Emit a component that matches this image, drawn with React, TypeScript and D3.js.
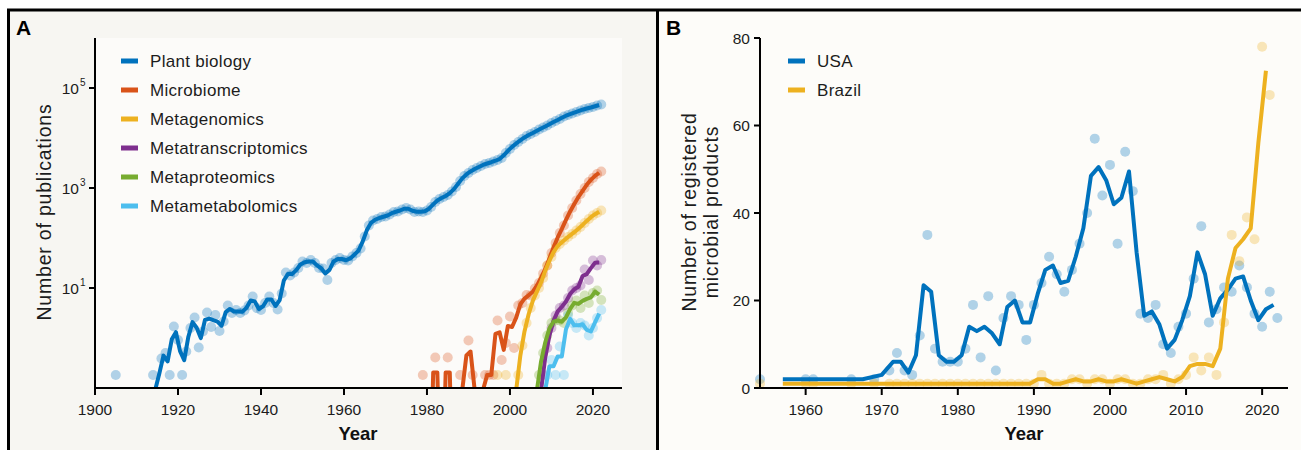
import React from "react";
import * as d3 from "d3";

// ---------------- Panel A data (log10 of value in axis units; null = none that year) ----------------
const plantStart = 1904;
const plantBiology: (number | null)[] = [
  null, // 1904
  -0.74, null, null, null, null, null, null, null, null, // 1905-1913
  -0.74, null, -0.41, -0.3, -0.74, 0.23, -0.04, -0.74, -0.27, 0.2, // 1914-1923
  0.41, -0.19, 0.13, 0.51, 0.22, 0.46, 0.14, 0.33, 0.65, 0.5, // 1924-1933
  0.56, 0.5, 0.55, 0.65, 0.83, 0.6, 0.56, 0.7, 0.83, 0.7, // 1934-1943
  0.57, 0.89, 1.31, 1.25, 1.31, 1.4, 1.53, 1.5, 1.56, 1.5, // 1944-1953
  1.4, 1.39, 1.16, 1.5, 1.56, 1.6, 1.56, 1.55, 1.63, 1.7, // 1954-1963
  1.79, 2.03, 2.25, 2.35, 2.38, 2.42, 2.43, 2.47, 2.52, 2.53, // 1964-1973
  2.57, 2.6, 2.57, 2.52, 2.53, 2.52, 2.55, 2.62, 2.72, 2.78, // 1974-1983
  2.82, 2.86, 2.93, 3.02, 3.14, 3.24, 3.3, 3.36, 3.4, 3.44, // 1984-1993
  3.48, 3.5, 3.53, 3.56, 3.6, 3.7, 3.78, 3.86, 3.92, 3.98, // 1994-2003
  4.04, 4.08, 4.12, 4.17, 4.21, 4.25, 4.3, 4.34, 4.38, 4.43, // 2004-2013
  4.46, 4.49, 4.52, 4.55, 4.58, 4.6, 4.62, 4.65, 4.67, // 2014-2022
];

const microbiomeStart = 1978;
const microbiome: (number | null)[] = [
  null, // 1978
  -0.74, null, null, -0.39, null, null, -0.39, null, null, -0.74, // 1979-1988
  null, -0.05, -0.74, null, null, -0.74, -0.74, -0.74, 0.35, -0.44, // 1989-1998
  -0.1, 0.43, -0.2, 0.65, 0.7, 0.86, 0.85, 0.99, 1.1, 1.29, // 1999-2008
  1.45, 1.7, 1.9, 2.1, 2.25, 2.45, 2.6, 2.75, 2.88, 3.0, // 2009-2018
  3.12, 3.2, 3.28, 3.33, // 2019-2022
];

const metagenomicsStart = 1996;
const metagenomics: (number | null)[] = [
  null, // 1996
  -0.74, null, -0.74, null, null, -0.74, -0.15, 0.3, 0.6, 0.85, // 1997-2006
  1.0, 1.2, 1.45, 1.62, 1.8, 1.88, 1.95, 2.02, 2.08, 2.15, // 2007-2016
  2.22, 2.3, 2.38, 2.45, 2.5, 2.55, // 2017-2022
];

const metatranscriptomicsStart = 2007;
const metatranscriptomics: (number | null)[] = [
  null, -0.74, -0.2, 0.2, 0.45, 0.6, 0.65, 0.8, 0.95, 1.0, 1.05, 1.37, 1.16, 1.55, 1.45, 1.56,
];

const metaproteomicsStart = 2006;
const metaproteomics: (number | null)[] = [
  null, -0.74, -0.3, 0.05, 0.3, 0.35, 0.35, 0.3, 0.5, 0.65, 0.75, 0.6, 0.85, 0.7, 0.9, 0.95, 0.76,
];

const metametabolomicsStart = 2008;
const metametabolomics: (number | null)[] = [
  null, -0.74, -0.44, -0.74, -0.17, -0.74, 0.45, 0.3, 0.2, 0.3, 0.25, 0.05, 0.2, 0.4, 0.56,
];

const seriesNamesA = [
  "Plant biology",
  "Microbiome",
  "Metagenomics",
  "Metatranscriptomics",
  "Metaproteomics",
  "Metametabolomics",
];
const seriesColorsA = ["#0072BD", "#D95319", "#EDB120", "#7E2F8E", "#77AC30", "#4DBEEE"];
const seriesStartsA = [
  plantStart,
  microbiomeStart,
  metagenomicsStart,
  metatranscriptomicsStart,
  metaproteomicsStart,
  metametabolomicsStart,
];
const seriesExpsA = [
  plantBiology,
  microbiome,
  metagenomics,
  metatranscriptomics,
  metaproteomics,
  metametabolomics,
];
const xTicksA = [1900, 1920, 1940, 1960, 1980, 2000, 2020];
const yTicksA = [10, 1000, 100000];

// ---------------- Panel B data ----------------
const usaYears = [
  1954, 1960, 1961, 1966, 1969, 1971, 1972, 1973, 1974, 1975, 1976, 1977, 1978, 1979, 1980,
  1981, 1982, 1983, 1984, 1985, 1986, 1987, 1988, 1989, 1990, 1991, 1992, 1993, 1994, 1995,
  1996, 1997, 1998, 1999, 2000, 2001, 2002, 2003, 2004, 2005, 2006, 2007, 2008, 2009, 2010,
  2011, 2012, 2013, 2014, 2015, 2016, 2017, 2018, 2019, 2020, 2021, 2022,
];
const usaValues = [
  2, 2, 2, 2, 2, 4, 8, 4, 3, 12, 35, 9, 6, 6, 6,
  9, 19, 7, 21, 4, 16, 21, 19, 11, 19, 24, 30, 26, 22, 27,
  33, 40, 57, 44, 51, 33, 54, 45, 17, 16, 19, 10, 8, 14, 17,
  25, 37, 15, 18, 23, 22, 28, 23, 17, 14, 22, 16,
];
const brazilYears = [
  1954, 1960, 1961, 1966, 1969, 1971, 1972, 1973, 1974, 1975, 1976, 1977, 1978, 1979, 1980,
  1981, 1982, 1983, 1984, 1985, 1986, 1987, 1988, 1989, 1990, 1991, 1992, 1993, 1994, 1995,
  1996, 1997, 1998, 1999, 2000, 2001, 2002, 2003, 2004, 2005, 2006, 2007, 2008, 2009, 2010,
  2011, 2012, 2013, 2014, 2015, 2016, 2017, 2018, 2019, 2020, 2021,
];
const brazilValues = [
  1, 1, 1, 1, 1, 1, 1, 1, 1, 1, 1, 1, 1, 1, 1,
  1, 1, 1, 1, 1, 1, 1, 1, 1, 1, 3, 1, 1, 1, 2,
  2, 1, 2, 2, 1, 2, 2, 1, 1, 2, 2, 3, 1, 2, 3,
  7, 4, 7, 3, 15, 35, 29, 39, 34, 78, 67,
];
const xTicksB = [1960, 1970, 1980, 1990, 2000, 2010, 2020];
const yTicksB = [0, 20, 40, 60, 80];

// ---------------- helpers ----------------
const FONT = "'Liberation Sans', Arial, Helvetica, sans-serif";
const INK = "#1c1c1c";

function pairMean(years: number[], vals: number[]): [number, number][] {
  const out: [number, number][] = [];
  for (let i = 0; i < years.length - 1; i++) {
    out.push([(years[i] + years[i + 1]) / 2, (vals[i] + vals[i + 1]) / 2]);
  }
  return out;
}

export default function App() {
  // Panel A scales
  const xA = d3.scaleLinear().domain([1900, 2027]).range([95, 622]);
  const yA = d3.scaleLog().domain([0.1, 1e6]).range([388, 38]);
  // Panel B scales
  const xB = d3.scaleLinear().domain([1954, 2023.4]).range([760, 1288]);
  const yB = d3.scaleLinear().domain([0, 80]).range([388, 38]);

  const seriesA = seriesNamesA.map((name, s) => {
    const years = seriesExpsA[s].map((_, i) => seriesStartsA[s] + i);
    const vals = seriesExpsA[s].map((e) => (e === null ? 0 : Math.pow(10, e)));
    return { name, color: seriesColorsA[s], years, vals, exps: seriesExpsA[s] };
  });

  // zero means fall off the log axis: send them far below so the clip cuts them
  const lineA = d3
    .line<[number, number]>()
    .x((d) => xA(d[0]))
    .y((d) => yA(Math.max(d[1], 1e-4)));
  const lineB = d3
    .line<[number, number]>()
    .x((d) => xB(d[0]))
    .y((d) => yB(d[1]));

  const usaLine = pairMean(usaYears, usaValues);
  const brazilLine = pairMean(brazilYears, brazilValues);

  return (
    <svg
      width={1301}
      height={450}
      style={{ position: "absolute", left: 0, top: 0, display: "block" }}
      fontFamily={FONT}
    >
      <defs>
        <clipPath id="clipA">
          <rect x={95} y={38} width={527} height={350} />
        </clipPath>
      </defs>
      <rect x={0} y={0} width={1301} height={450} fill="#ffffff" />
      {/* panel backgrounds */}
      <rect x={8} y={9} width={650} height={445} fill="#f7f6f2" />
      <rect x={658} y={9} width={643} height={445} fill="#fdfcf9" />
      <rect x={95} y={38} width={527} height={350} fill="#fcfbf9" />

      {/* ---------------- Panel A ---------------- */}
      <g clipPath="url(#clipA)">
        {seriesA.map((s) =>
          s.years.map((yr, i) =>
            s.exps[i] === null ? null : (
              <circle
                key={s.name + yr}
                cx={xA(yr)}
                cy={yA(s.vals[i])}
                r={5}
                fill={s.color}
                fillOpacity={0.3}
              />
            )
          )
        )}
        {seriesA.map((s) => (
          <path
            key={s.name + "-line"}
            d={lineA(pairMean(s.years, s.vals)) || ""}
            fill="none"
            stroke={s.color}
            strokeWidth={4}
            strokeLinejoin="round"
          />
        ))}
      </g>
      {/* axes A */}
      <line x1={95} x2={95} y1={38} y2={389} stroke="#000" strokeWidth={2} />
      <line x1={94} x2={622} y1={388} y2={388} stroke="#000" strokeWidth={2} />
      {xTicksA.map((t) => (
        <g key={"xa" + t}>
          <line x1={xA(t)} x2={xA(t)} y1={388} y2={395} stroke="#000" strokeWidth={2} />
          <text x={xA(t)} y={415} textAnchor="middle" fontSize={15.5} fill={INK}>
            {t}
          </text>
        </g>
      ))}
      {yTicksA.map((t) => (
        <g key={"ya" + t}>
          <line x1={89} x2={95} y1={yA(t)} y2={yA(t)} stroke="#000" strokeWidth={2} />
          <text x={79} y={yA(t) + 5.5} textAnchor="end" fontSize={15.5} fill={INK}>
            10
          </text>
          <text x={80} y={yA(t) - 2} textAnchor="start" fontSize={10} fill={INK}>
            {Math.round(Math.log10(t))}
          </text>
        </g>
      ))}
      <text x={358} y={440} textAnchor="middle" fontSize={18.5} fontWeight="bold" fill="#111">
        Year
      </text>
      <text
        transform="translate(51,212) rotate(-90)"
        textAnchor="middle"
        fontSize={19.5}
        letterSpacing={0.8}
        fill={INK}
      >
        Number of publications
      </text>
      {/* legend A */}
      {seriesA.map((s, i) => (
        <g key={"lg" + s.name}>
          <rect x={121} y={61 + i * 29 - 2.5} width={17} height={5} fill={s.color} />
          <text x={150} y={61 + i * 29 + 6} fontSize={17} letterSpacing={0.3} fill={INK}>
            {s.name}
          </text>
        </g>
      ))}
      <text x={16} y={35} fontSize={21} fontWeight="bold" fill="#000">
        A
      </text>

      {/* ---------------- Panel B ---------------- */}
      {usaYears.map((yr, i) => (
        <circle key={"ud" + yr} cx={xB(yr)} cy={yB(usaValues[i])} r={5} fill="#0072BD" fillOpacity={0.3} />
      ))}
      {brazilYears.map((yr, i) => (
        <circle key={"bd" + yr} cx={xB(yr)} cy={yB(brazilValues[i])} r={5} fill="#EDB120" fillOpacity={0.3} />
      ))}
      <path d={lineB(usaLine) || ""} fill="none" stroke="#0072BD" strokeWidth={4} strokeLinejoin="round" />
      <path d={lineB(brazilLine) || ""} fill="none" stroke="#EDB120" strokeWidth={4} strokeLinejoin="round" />
      {/* axes B */}
      <line x1={760} x2={760} y1={38} y2={389} stroke="#000" strokeWidth={2} />
      <line x1={759} x2={1288} y1={388} y2={388} stroke="#000" strokeWidth={2} />
      {xTicksB.map((t) => (
        <g key={"xb" + t}>
          <line x1={xB(t)} x2={xB(t)} y1={388} y2={395} stroke="#000" strokeWidth={2} />
          <text x={xB(t)} y={415} textAnchor="middle" fontSize={15.5} fill={INK}>
            {t}
          </text>
        </g>
      ))}
      {yTicksB.map((t) => (
        <g key={"yb" + t}>
          <line x1={754} x2={760} y1={yB(t)} y2={yB(t)} stroke="#000" strokeWidth={2} />
          <text x={750} y={yB(t) + 5.5} textAnchor="end" fontSize={15.5} fill={INK}>
            {t}
          </text>
        </g>
      ))}
      <text x={1024} y={440} textAnchor="middle" fontSize={18.5} fontWeight="bold" fill="#111">
        Year
      </text>
      <text
        transform="translate(696,212) rotate(-90)"
        textAnchor="middle"
        fontSize={19.5}
        letterSpacing={0.8}
        fill={INK}
      >
        Number of registered
      </text>
      <text
        transform="translate(718,212) rotate(-90)"
        textAnchor="middle"
        fontSize={19.5}
        letterSpacing={0.8}
        fill={INK}
      >
        microbial products
      </text>
      {/* legend B */}
      {["USA", "Brazil"].map((name, i) => (
        <g key={"lgb" + name}>
          <rect x={788} y={61 + i * 29 - 2.5} width={17} height={5} fill={i === 0 ? "#0072BD" : "#EDB120"} />
          <text x={817} y={61 + i * 29 + 6} fontSize={17} letterSpacing={0.3} fill={INK}>
            {name}
          </text>
        </g>
      ))}
      <text x={666} y={35} fontSize={21} fontWeight="bold" fill="#000">
        B
      </text>

      {/* frame */}
      <line x1={7} x2={1301} y1={10} y2={10} stroke="#000" strokeWidth={3} />
      <line x1={8.5} x2={8.5} y1={9} y2={450} stroke="#000" strokeWidth={3} />
      <line x1={657.5} x2={657.5} y1={9} y2={450} stroke="#000" strokeWidth={3} />
    </svg>
  );
}
